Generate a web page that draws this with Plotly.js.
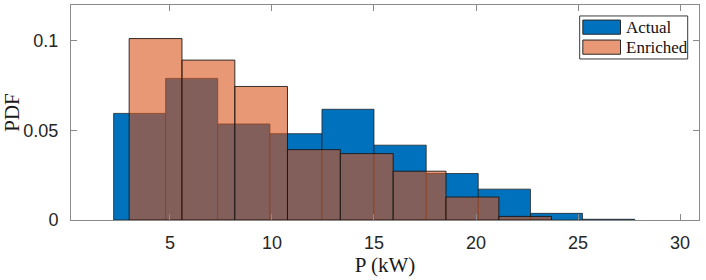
<!DOCTYPE html>
<html>
<head>
<meta charset="utf-8">
<script src="https://cdn.plot.ly/plotly-3.0.1.min.js"></script>
<style>html,body{margin:0;padding:0;background:#fff;}#chart{width:706px;height:280px;}</style>
</head>
<body>
<div id="chart"></div>
<script>
// Histogram bin edges (kW) and PDF heights
const actualEdges = [2.24, 4.79, 7.34, 9.90, 12.45, 15.00, 17.56, 20.11, 22.67, 25.22, 27.78];
const actualPdf   = [0.0594, 0.0789, 0.0535, 0.0481, 0.0617, 0.0417, 0.0259, 0.0172, 0.0037, 0.0004];
const enrichedEdges = [3.00, 5.59, 8.18, 10.76, 13.35, 15.94, 18.53, 21.12, 23.70];
const enrichedPdf   = [0.1011, 0.0891, 0.0744, 0.0392, 0.0370, 0.0272, 0.0128, 0.0020];
const seriesNames = ["Actual", "Enriched"];
const xTicks = [5, 10, 15, 20, 25, 30];
const yTicks = [0, 0.05, 0.1];
const yTickLabels = ["0", "0.05", "0.1"];

function centers(e){ return e.slice(0, -1).map((v, i) => (v + e[i + 1]) / 2); }
function widths(e){ return e.slice(0, -1).map((v, i) => e[i + 1] - v); }

const blue = "#0072BD";
const orangeA = "rgba(217,83,25,0.6)";

const traces = [
  {type: "bar", name: seriesNames[0], x: centers(actualEdges), y: actualPdf, width: widths(actualEdges),
   marker: {color: blue, line: {color: "rgba(30,30,30,0.75)", width: 1}}, showlegend: false, hoverinfo: "x+y"},
  {type: "bar", name: seriesNames[1], x: centers(enrichedEdges), y: enrichedPdf, width: widths(enrichedEdges),
   marker: {color: orangeA, line: {color: "rgba(20,20,20,0.85)", width: 1}}, showlegend: false, hoverinfo: "x+y"}
];

const frame = "#8a8a8a";
const tickFont = {family: "Liberation Sans, Arial, sans-serif", size: 18, color: "#262626"};
const labFont = {family: "Liberation Serif, Times New Roman, serif", size: 21, color: "#1a1a1a"};

// legend drawn in paper coordinates
const L = {x0: 0.810, x1: 0.982, y0: 0.749, y1: 0.949, px0: 0.815, px1: 0.875, tx: 0.880};
const rows = [{y0: 0.864, y1: 0.930, c: blue}, {y0: 0.771, y1: 0.837, c: "#E89875"}];

const shapes = [
  {type: "rect", xref: "paper", yref: "paper", x0: L.x0, x1: L.x1, y0: L.y0, y1: L.y1,
   line: {color: "#3a3a3a", width: 1}, fillcolor: "#ffffff", layer: "above"}
];
const annotations = [];
rows.forEach((r, i) => {
  shapes.push({type: "rect", xref: "paper", yref: "paper", x0: L.px0, x1: L.px1, y0: r.y0, y1: r.y1,
    line: {color: "#2a2a2a", width: 1}, fillcolor: r.c, layer: "above"});
  annotations.push({xref: "paper", yref: "paper", x: L.tx, y: (r.y0 + r.y1) / 2, xanchor: "left", yanchor: "middle",
    text: seriesNames[i], showarrow: false, font: {family: "Liberation Serif, Times New Roman, serif", size: 17, color: "#111"}});
});

const layout = {
  width: 706, height: 280,
  margin: {l: 71, r: 7, t: 5, b: 60, pad: 0},
  paper_bgcolor: "#fff", plot_bgcolor: "#fff",
  barmode: "overlay", bargap: 0,
  showlegend: false,
  xaxis: {range: [0.15, 30.93], tickvals: xTicks, ticks: "inside", ticklen: 6, tickcolor: frame, tickwidth: 1,
    showline: true, linecolor: frame, linewidth: 1, mirror: "allticks", showgrid: false, zeroline: false,
    tickfont: tickFont, ticklabelstandoff: 6,
    title: {text: "P (kW)", font: labFont, standoff: 4}},
  yaxis: {range: [0, 0.1198], tickvals: yTicks, ticktext: yTickLabels, ticks: "inside", ticklen: 6, tickcolor: frame, tickwidth: 1,
    showline: true, linecolor: frame, linewidth: 1, mirror: "allticks", showgrid: false, zeroline: false,
    tickfont: tickFont, ticklabelstandoff: 8,
    title: {text: "PDF", font: labFont, standoff: 8}},
  shapes: shapes,
  annotations: annotations
};

Plotly.newPlot("chart", traces, layout, {displayModeBar: false, staticPlot: true});
</script>
</body>
</html>
